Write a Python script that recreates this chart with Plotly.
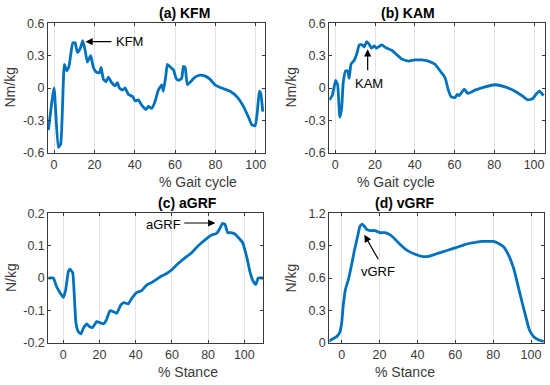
import plotly.graph_objects as go

# ---- data ----
kfm_x = [-2.8, 0, 2.1, 3.3, 5.1, 6.3, 7.4, 9.3, 10.4, 11.6, 12.9, 14.2, 15.4, 16.5, 18.2, 19.5, 20.8, 22.5, 23.3, 24.5,
         25.8, 26.9, 28.6, 30.2, 31.4, 32.4, 34, 35.2, 36.9, 39, 40.2, 41.8, 43.5, 45.5, 46.8, 48.4, 50, 51.7, 53.4, 54.2,
         55.4, 56.2, 57.9, 59.2, 60.5, 61.7, 63.3, 64.1, 65, 66.1, 67.8, 69.9, 72.4, 75, 77.4, 79.8, 83.1, 87.3, 90.6,
         93.9, 96.4, 98, 99.7, 100.8, 101.8, 102.5, 103.5]
kfm_y = [-0.39, 0.0, -0.55, -0.52, 0.22, 0.16, 0.2, 0.42, 0.42, 0.33, 0.36, 0.44, 0.35, 0.24, 0.3, 0.19, 0.15, 0.14, 0.19, 0.08,
         0.06, 0.1, 0.05, 0.02, 0.05, 0.0, -0.02, 0.0, -0.06, -0.08, -0.12, -0.11, -0.16, -0.2, -0.17, -0.19, -0.13, -0.02, 0.03, -0.03,
         0.11, 0.22, 0.19, 0.17, 0.09, 0.07, 0.09, 0.2, 0.19, 0.03, 0.06, 0.1, 0.12, 0.11, 0.08, 0.03, 0.0, -0.03, -0.08,
         -0.17, -0.27, -0.34, -0.35, -0.22, -0.03, -0.05, -0.22]

kam_x = [-3, -1.5, 0.2, 1.2, 2.3, 3.2, 4, 5.2, 6.2, 7, 7.9, 9.6, 10.7, 12.1, 13.6, 14.6, 15.8, 16.9, 18.3, 19.6, 20.8,
         23.3, 25.8, 28.4, 30.9, 33.4, 36.7, 40.1, 43.5, 46.8, 50.2, 52.7, 54.4, 55.5, 56.9, 58.2, 60.2, 61.4, 62.4,
         64.9, 66.6, 70.3, 75.3, 80.4, 85.4, 90.4, 94.6, 96.8, 99.2, 101.3, 102.7, 104.7]
kam_y = [-0.11, -0.07, 0.07, 0.03, -0.27, -0.19, 0.05, 0.16, 0.16, 0.09, 0.22, 0.26, 0.31, 0.4, 0.4, 0.38, 0.43, 0.41, 0.37, 0.39, 0.37,
         0.4, 0.37, 0.35, 0.31, 0.27, 0.25, 0.26, 0.26, 0.25, 0.22, 0.16, 0.12, 0.08, -0.02, -0.08, -0.09, -0.06, -0.07,
         -0.01, -0.05, -0.02, 0.01, 0.03, 0.01, -0.03, -0.08, -0.11, -0.1, -0.05, -0.03, -0.07]

agrf_x = [-8.3, -5.5, -3.7, -1.3, 0, 1.3, 2.8, 3.7, 5.2, 5.9, 7, 8.3, 9.8, 11, 12.9, 14.4, 16.2, 18.4, 20.3, 22.1, 23.6,
          25.8, 27.6, 29.5, 31.7, 33.5, 35.9, 37.8, 40.5, 43.3, 46, 48.8, 51.6, 54.3, 57.1, 59.9, 62.6, 65.4, 68.1, 70.9,
          73.7, 76.4, 79.2, 81.9, 84.7, 86.2, 88, 89.3, 90.8, 92.4, 94.8, 97.2, 99.1, 101.3, 103.1, 105, 106.4, 107.7, 110.5]
agrf_y = [0, 0, -0.027, -0.05, -0.06, -0.037, 0.02, 0.027, 0.016, -0.037, -0.14, -0.166, -0.173, -0.156, -0.142, -0.15, -0.153,
          -0.135, -0.138, -0.142, -0.132, -0.101, -0.104, -0.109, -0.084, -0.076, -0.08, -0.063, -0.045, -0.039, -0.022,
          -0.014, -0.004, 0.006, 0.014, 0.025, 0.04, 0.054, 0.066, 0.078, 0.095, 0.109, 0.122, 0.133, 0.138, 0.15, 0.169,
          0.166, 0.14, 0.14, 0.136, 0.122, 0.109, 0.066, 0.02, -0.011, -0.02, 0, 0]

vgrf_x = [-6.5, -5.3, -2.6, -0.9, 0, 0.9, 2.1, 3.5, 4.9, 6.7, 8.5, 9.7, 10.9, 12, 13.2, 15, 17.6, 20.3, 22.9, 25.6, 28.2,
          30.9, 33.5, 36.2, 38.8, 42.3, 45.9, 49.4, 52.9, 56.4, 60, 63.5, 67, 70.5, 74.1, 77.6, 80.2, 82.9, 85.5, 88.2,
          90.8, 93.1, 95.2, 97.4, 99.1, 101.4, 104.1, 106.7]
vgrf_y = [0.01, 0.03, 0.056, 0.1, 0.18, 0.35, 0.5, 0.58, 0.69, 0.85, 0.99, 1.08, 1.1, 1.08, 1.05, 1.04, 1.04, 1.02, 1.02, 1.0,
          0.96, 0.91, 0.87, 0.84, 0.82, 0.8, 0.8, 0.82, 0.84, 0.86, 0.88, 0.9, 0.92, 0.93, 0.94, 0.94, 0.94, 0.92, 0.89,
          0.81, 0.69, 0.53, 0.38, 0.23, 0.12, 0.056, 0.025, 0.01]

titles = ["(a) KFM", "(b) KAM", "(c) aGRF", "(d) vGRF"]
xlabels = ["% Gait cycle", "% Gait cycle", "% Stance", "% Stance"]
ylabels = ["Nm/kg", "Nm/kg", "N/kg", "N/kg"]
x_ticks_gait = [0, 20, 40, 60, 80, 100]
y_ticks_moment = [-0.6, -0.3, 0, 0.3, 0.6]
y_ticktext_moment = ["-0.6", "-0.3", "0", "0.3", "0.6"]
y_ticks_agrf = [-0.2, -0.1, 0, 0.1, 0.2]
y_ticktext_agrf = ["-0.2", "-0.1", "0", "0.1", "0.2"]
y_ticks_vgrf = [0, 0.3, 0.6, 0.9, 1.2]
y_ticktext_vgrf = ["0", "0.3", "0.6", "0.9", "1.2"]

# ---- figure ----
W, H = 550, 385
LINE = "#0072BD"
AX = "#3a3a3a"
FONT = "Liberation Sans, Arial, sans-serif"

# pixel boxes (left, right, top, bottom)
boxes = [(48, 265, 23.3, 152.7), (329.3, 545, 23.3, 152.7),
         (48.3, 263.3, 213.3, 342.7), (329.3, 544.3, 213.3, 342.7)]
ytitle_x = [9.5, 290.5, 11, 290.5]
xranges = [[-3, 104.6], [-3, 105.5], [-8.3, 110.5], [-6.5, 107]]
yranges = [[-0.6, 0.6], [-0.6, 0.6], [-0.2, 0.2], [0, 1.2]]
yticks = [(y_ticks_moment, y_ticktext_moment), (y_ticks_moment, y_ticktext_moment),
          (y_ticks_agrf, y_ticktext_agrf), (y_ticks_vgrf, y_ticktext_vgrf)]
series = [(kfm_x, kfm_y), (kam_x, kam_y), (agrf_x, agrf_y), (vgrf_x, vgrf_y)]

fig = go.Figure()
annotations = []
for i in range(4):
    l, r, t, b = boxes[i]
    xa = "xaxis" if i == 0 else f"xaxis{i+1}"
    ya = "yaxis" if i == 0 else f"yaxis{i+1}"
    xr = "x" if i == 0 else f"x{i+1}"
    yr = "y" if i == 0 else f"y{i+1}"
    fig.add_trace(go.Scatter(x=series[i][0], y=series[i][1], mode="lines",
                             line=dict(color=LINE, width=2.8, shape="spline", smoothing=0.4),
                             xaxis=xr, yaxis=yr, showlegend=False, hoverinfo="skip"))
    fig.update_layout(**{
        xa: dict(domain=[l / W, r / W], range=xranges[i], anchor=yr, automargin=False,
                 tickvals=x_ticks_gait, ticks="inside", ticklen=3, tickcolor=AX,
                 showline=True, linecolor=AX, linewidth=1, mirror="ticks",
                 showgrid=True, gridcolor="#e3e3e3", gridwidth=1, zeroline=False,
                 tickfont=dict(size=12.5, color=AX, family=FONT)),
        ya: dict(domain=[1 - b / H, 1 - t / H], range=yranges[i], anchor=xr, automargin=False,
                 tickvals=yticks[i][0], ticktext=yticks[i][1], ticks="inside", ticklen=3, tickcolor=AX,
                 showline=True, linecolor=AX, linewidth=1, mirror="ticks",
                 showgrid=False, zeroline=False,
                 tickfont=dict(size=12.5, color=AX, family=FONT)),
    })
    # panel title
    annotations.append(dict(text=f"<b>{titles[i]}</b>", xref="paper", yref="paper",
                            x=(l + r) / 2 / W, y=1 - 13 / H if i < 2 else 1 - (13 + 190) / H,
                            yanchor="middle", showarrow=False,
                            font=dict(size=14, color="#000000", family=FONT)))
    # x title
    annotations.append(dict(text=xlabels[i], xref="paper", yref="paper",
                            x=(l + r) / 2 / W, y=1 - (b + 29.5) / H, yanchor="middle", showarrow=False,
                            font=dict(size=14, color=AX, family=FONT)))
    # y title
    annotations.append(dict(text=ylabels[i], xref="paper", yref="paper", textangle=-90,
                            x=ytitle_x[i] / W, y=1 - (t + b) / 2 / H, xanchor="center", yanchor="middle",
                            showarrow=False, font=dict(size=14, color=AX, family=FONT)))

# arrows and labels
def arrow(xr, yr, x, y, ax, ay):
    annotations.append(dict(x=x, y=y, ax=ax, ay=ay, xref=xr, yref=yr, axref=xr, ayref=yr,
                            text="", showarrow=True, arrowhead=2, arrowsize=1.2, arrowwidth=1.2,
                            arrowcolor="#000000"))

def label(xr, yr, x, y, txt, xanchor="center"):
    annotations.append(dict(x=x, y=y, xref=xr, yref=yr, text=txt, showarrow=False, xanchor=xanchor,
                            font=dict(size=13, color="#000000", family=FONT)))

arrow("x", "y", 15.6, 0.43, 29.2, 0.43)
label("x", "y", 29.6, 0.43, "KFM", "left")
arrow("x2", "y2", 16.3, 0.36, 16.3, 0.15)
label("x2", "y2", 17.0, 0.04, "KAM")
arrow("x3", "y3", 84.0, 0.17, 66.0, 0.17)
label("x3", "y3", 66.2, 0.165, "aGRF", "right")
arrow("x4", "y4", 12.0, 1.0, 19.8, 0.76)
label("x4", "y4", 19.4, 0.66, "vGRF")

fig.update_layout(width=W, height=H, margin=dict(l=0, r=0, t=0, b=0, autoexpand=False),
                  paper_bgcolor="white", plot_bgcolor="white",
                  annotations=annotations, font=dict(family=FONT))
fig.write_html("out.html", config={"displayModeBar": False},
               post_script="document.body.style.margin='0px';document.body.style.overflow='hidden';")
